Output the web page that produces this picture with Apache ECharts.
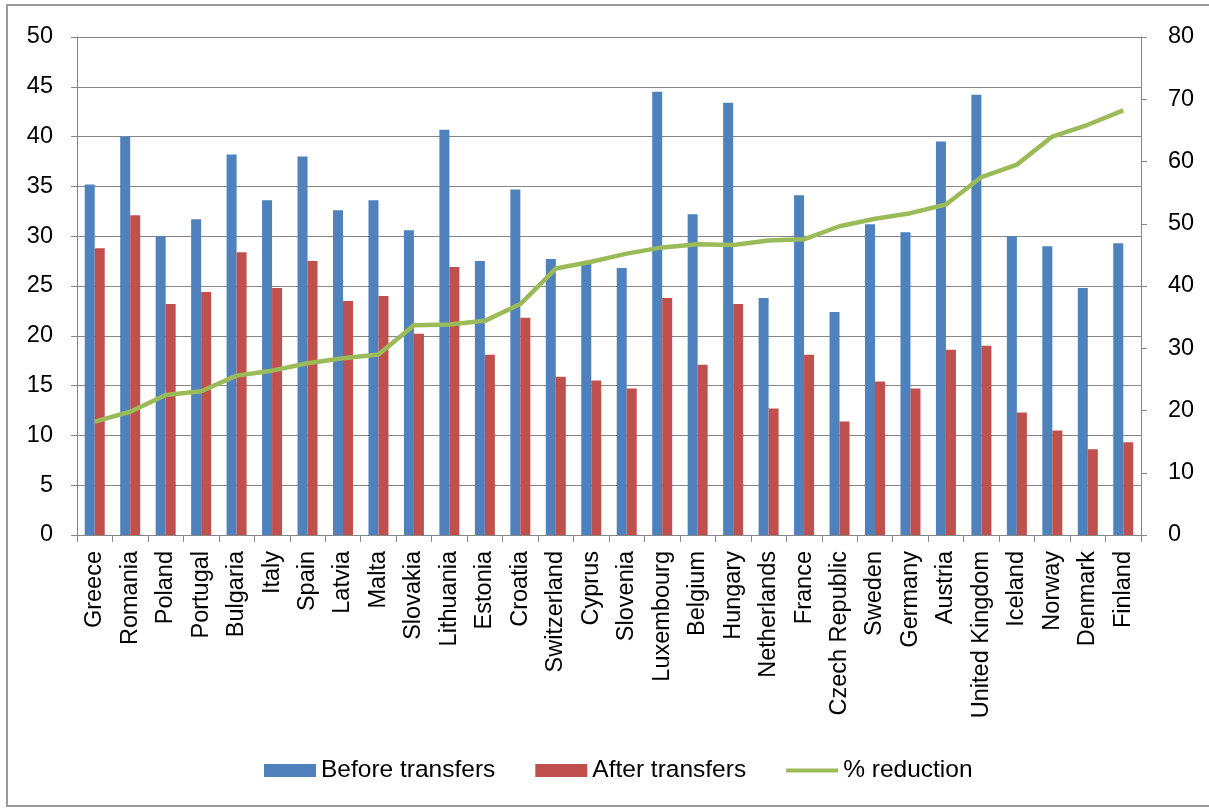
<!DOCTYPE html>
<html><head><meta charset="utf-8">
<script src="https://cdn.jsdelivr.net/npm/echarts@6/dist/echarts.min.js"></script>
<style>html,body{margin:0;padding:0;background:#fff}#c{width:1209px;height:808px}</style>
</head><body><div id="c"></div>
<script>
const categories = ["Greece","Romania","Poland","Portugal","Bulgaria","Italy","Spain","Latvia","Malta","Slovakia","Lithuania","Estonia","Croatia","Switzerland","Cyprus","Slovenia","Luxembourg","Belgium","Hungary","Netherlands","France","Czech Republic","Sweden","Germany","Austria","United Kingdom","Iceland","Norway","Denmark","Finland"];
const beforeTransfers = [35.2,40.0,30.0,31.7,38.2,33.6,38.0,32.6,33.6,30.6,40.7,27.5,34.7,27.7,27.4,26.8,44.5,32.2,43.4,23.8,34.1,22.4,31.2,30.4,39.5,44.2,30.0,29.0,24.8,29.3];
const afterTransfers = [28.8,32.1,23.2,24.4,28.4,24.8,27.5,23.5,24.0,20.2,26.9,18.1,21.8,15.9,15.5,14.7,23.8,17.1,23.2,12.7,18.1,11.4,15.4,14.7,18.6,19.0,12.3,10.5,8.6,9.3];
const pctReduction = [18.2,19.8,22.5,23.1,25.6,26.4,27.6,28.4,29.0,33.7,33.8,34.4,37.1,42.8,43.9,45.2,46.2,46.7,46.6,47.3,47.5,49.6,50.8,51.7,53.1,57.5,59.5,64.0,65.9,68.2];
const leftTicks = {min:0,max:50,interval:5};
const rightTicks = {min:0,max:80,interval:10};

const FONT = '"Liberation Sans",Arial,sans-serif';
const chart = echarts.init(document.getElementById('c'));
chart.setOption({
  animation:false,
  backgroundColor:'#fff',
  graphic:[{type:'rect',shape:{x:7,y:5,width:1215,height:801},style:{fill:'none',stroke:'#9a9a9a',lineWidth:2},silent:true}],
  grid:{left:77,right:68,top:37,bottom:273},
  legend:{
    top:753,left:259,itemGap:40,itemWidth:52,itemHeight:13,
    textStyle:{fontFamily:FONT,fontSize:24.5,color:'#000'},
    data:[{name:'Before transfers',icon:'rect'},{name:'After transfers',icon:'rect'},{name:'% reduction',icon:'path://M0,0H56V4.5H0Z'}]
  },
  xAxis:{
    type:'category',data:categories,
    axisLine:{lineStyle:{color:'#868686'}},
    axisTick:{show:true,length:7,lineStyle:{color:'#868686'}},
    axisLabel:{rotate:90,interval:0,fontFamily:FONT,fontSize:23.5,color:'#000',margin:16}
  },
  yAxis:[
    {type:'value',min:leftTicks.min,max:leftTicks.max,interval:leftTicks.interval,position:'left',
     axisLine:{show:true,lineStyle:{color:'#868686'}},
     axisTick:{show:true,length:6,lineStyle:{color:'#868686'}},
     splitLine:{lineStyle:{color:'#868686',width:1}},
     axisLabel:{fontFamily:FONT,fontSize:23.5,color:'#000',margin:24}},
    {type:'value',min:rightTicks.min,max:rightTicks.max,interval:rightTicks.interval,position:'right',
     axisLine:{show:true,lineStyle:{color:'#868686'}},
     axisTick:{show:true,length:6,lineStyle:{color:'#868686'}},
     splitLine:{show:false},
     axisLabel:{fontFamily:FONT,fontSize:23.5,color:'#000',margin:27}}
  ],
  series:[
    {name:'Before transfers',type:'bar',data:beforeTransfers,barWidth:10,barGap:'0%',itemStyle:{color:'#4F81BD'}},
    {name:'After transfers',type:'bar',data:afterTransfers,barWidth:10,itemStyle:{color:'#C0504D'}},
    {name:'% reduction',type:'line',yAxisIndex:1,data:pctReduction,symbol:'none',lineStyle:{color:'#9BBB59',width:4.5},itemStyle:{color:'#9BBB59'}}
  ]
});
</script></body></html>
